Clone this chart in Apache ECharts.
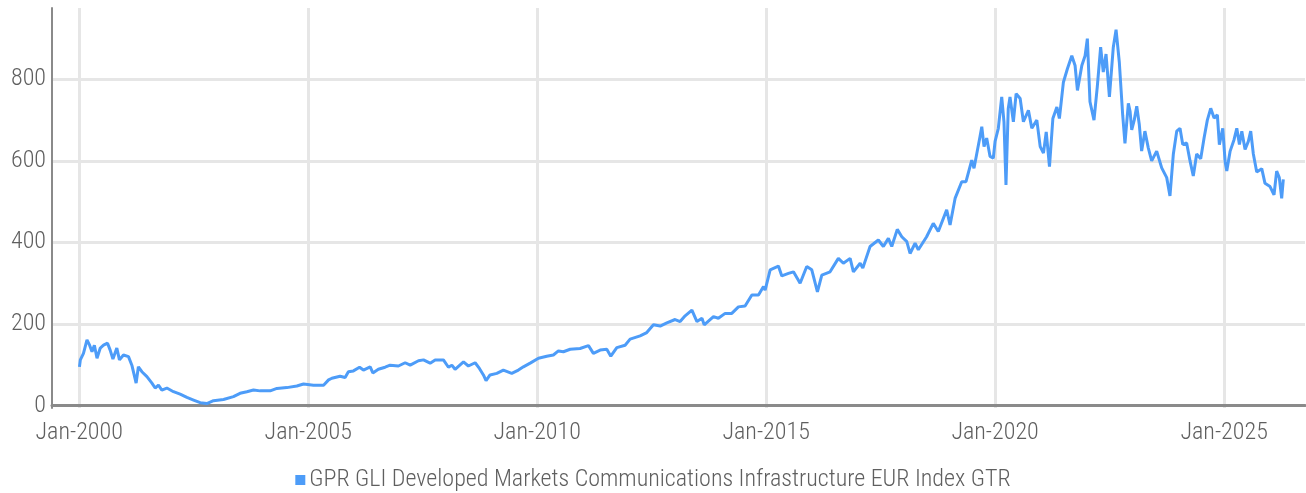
<!DOCTYPE html>
<html>
<head>
<meta charset="utf-8">
<script src="https://cdn.jsdelivr.net/npm/echarts@6/dist/echarts.min.js"></script>
<style>
html,body{margin:0;padding:0;background:#fff;}
#chart{width:1306px;height:493px;}
</style>
</head>
<body>
<div id="chart"></div>
<script>
const seriesName = 'GPR GLI Developed Markets Communications Infrastructure EUR Index GTR';
const xTickDates = ['2000-01-01','2005-01-01','2010-01-01','2015-01-01','2020-01-01','2025-01-01'];
const yTickValues = [0, 200, 400, 600, 800];

const dates = [
'2000-01-03','2000-01-10','2000-02-04','2000-03-03','2000-03-24','2000-04-12','2000-05-01','2000-05-22','2000-06-17','2000-07-13',
'2000-08-14','2000-09-04','2000-09-26','2000-10-27','2000-11-17','2000-12-19','2001-01-28','2001-02-24','2001-03-30','2001-04-17',
'2001-05-15','2001-06-24','2001-08-03','2001-08-29','2001-09-24','2001-10-21','2001-11-30','2002-01-22','2002-03-16','2002-05-09',
'2002-07-01','2002-08-23','2002-10-15','2002-12-07','2003-02-25','2003-05-15','2003-07-07','2003-08-30','2003-10-22','2003-12-14',
'2004-03-03','2004-04-26','2004-07-14','2004-10-02','2004-11-24','2005-02-12','2005-05-03','2005-06-12','2005-07-08','2005-09-12',
'2005-10-22','2005-11-17','2005-12-27','2006-02-14','2006-03-17','2006-05-10','2006-05-31','2006-07-14','2006-09-06','2006-10-16',
'2006-12-21','2007-02-13','2007-03-25','2007-05-30','2007-07-09','2007-08-31','2007-10-10','2007-12-15','2008-01-24','2008-02-20',
'2008-03-17','2008-05-23','2008-07-01','2008-08-24','2008-09-27','2008-10-29','2008-11-19','2008-12-21','2009-02-13','2009-04-06',
'2009-06-12','2009-08-04','2009-09-13','2009-11-06','2010-01-11','2010-03-18','2010-05-10','2010-06-19','2010-07-29','2010-09-21',
'2010-12-09','2011-02-14','2011-03-25','2011-05-18','2011-07-10','2011-08-11','2011-09-28','2011-12-03','2012-01-12','2012-04-01',
'2012-05-24','2012-07-16','2012-09-08','2012-10-31','2013-01-05','2013-02-14','2013-03-26','2013-05-19','2013-06-28','2013-08-07',
'2013-08-25','2013-11-07','2013-12-16','2014-02-08','2014-04-02','2014-05-25','2014-07-17','2014-09-09','2014-11-01','2014-12-11',
'2014-12-24','2015-02-02','2015-04-09','2015-05-06','2015-06-28','2015-08-07','2015-09-29','2015-11-21','2015-12-31','2016-02-14',
'2016-03-20','2016-05-25','2016-07-30','2016-09-08','2016-11-01','2016-11-27','2017-01-20','2017-02-10','2017-04-09','2017-06-14',
'2017-07-24','2017-09-02','2017-09-29','2017-11-12','2017-12-18','2018-01-27','2018-02-22','2018-04-03','2018-04-29','2018-07-04',
'2018-08-26','2018-10-05','2018-12-11','2019-01-07','2019-02-16','2019-04-10','2019-05-14','2019-06-29','2019-07-17','2019-09-03',
'2019-09-17','2019-10-05','2019-10-26','2019-11-22','2019-12-18','2020-01-01','2020-01-27','2020-02-23','2020-03-12','2020-03-28',
'2020-04-15','2020-04-29','2020-05-26','2020-06-17','2020-07-19','2020-08-14','2020-09-23','2020-10-20','2020-11-29','2020-12-26',
'2021-01-21','2021-02-12','2021-03-10','2021-04-06','2021-05-08','2021-05-28','2021-06-29','2021-07-31','2021-09-04','2021-09-30',
'2021-10-19','2021-11-23','2021-12-19','2022-01-06','2022-01-27','2022-02-28','2022-03-26','2022-04-22','2022-05-13','2022-06-04',
'2022-07-01','2022-08-01','2022-08-23','2022-09-18','2022-10-15','2022-11-02','2022-11-29','2022-12-13','2022-12-26','2023-01-15',
'2023-02-04','2023-02-24','2023-03-15','2023-04-10','2023-05-07','2023-06-03','2023-07-13','2023-08-22','2023-10-01','2023-10-27',
'2023-11-23','2023-12-20','2024-01-15','2024-02-06','2024-03-08','2024-04-04','2024-04-30','2024-05-27','2024-06-28','2024-07-25',
'2024-08-20','2024-09-16','2024-10-13','2024-11-08','2024-11-24','2024-12-21','2025-01-09','2025-01-22','2025-02-18','2025-03-21',
'2025-04-12','2025-05-03','2025-05-22','2025-06-17','2025-07-13','2025-08-01','2025-08-22','2025-09-18','2025-10-28','2025-11-23',
'2026-01-02','2026-02-03','2026-02-24','2026-03-17','2026-04-05','2026-04-18'
];

const values = [
95,112,128,161,148,132,148,116,141,148,
153,136,114,141,112,124,120,99,55,95,
83,71,55,43,50,38,43,34,28,20,
13.5,7,5,12,15,22,30,34,38,36,
36,42,44,48,53,50,50,63,67,72,
69,83,85,94,87,95,80,89,94,99,
97,105,99,110,112,104,112,112,94,99,
89,107,97,105,91,75,61,75,79,87,
79,87,95,104,116,121,124,134,132,138,
140,147,128,136,138,121,142,148,163,171,
179,198,195,203,211,206,220,234,206,214,
198,218,214,226,226,242,244,271,271,292,
283,333,342,318,324,328,300,341,333,279,
320,328,361,349,361,328,349,337,390,406,
390,410,390,432,414,402,373,398,382,414,
447,427,480,443,508,549,549,602,582,660,
684,635,656,611,607,648,680,757,696,541,
728,757,696,765,753,696,724,680,700,635,
619,671,586,704,732,704,793,826,858,834,
773,834,858,900,745,700,781,879,818,862,
757,879,922,842,712,643,741,721,676,700,
734,690,624,673,632,600,624,583,559,514,
617,673,680,640,644,600,563,617,605,656,
700,729,705,713,640,680,598,575,624,652,
680,640,673,628,648,673,617,573,581,545,
537,517,575,559,508,555
];

const FONT = '"Roboto Condensed", Roboto, sans-serif';
const FW = 300;
const TXT = '#5f5f5f';
const MONTHS = ['Jan','Feb','Mar','Apr','May','Jun','Jul','Aug','Sep','Oct','Nov','Dec'];
const ts = s => Date.parse(s + 'T00:00:00Z');

const chart = echarts.init(document.getElementById('chart'), null, {renderer: 'canvas'});
const xTicks = xTickDates.map(ts);

chart.setOption({
  animation: false,
  backgroundColor: '#ffffff',
  grid: {left: 52, right: 1, top: 8, bottom: 85, containLabel: false},
  legend: {
    bottom: -4,
    left: 'center',
    icon: 'rect',
    itemWidth: 10,
    itemHeight: 10,
    itemGap: 6,
    textStyle: {fontFamily: FONT, fontSize: 24, color: TXT, fontWeight: FW, padding: [0, 0, 0, -1]},
    data: [seriesName]
  },
  xAxis: {
    type: 'value',
    min: ts('1999-05-29'),
    max: ts('2026-10-08'),
    axisLine: {show: true, lineStyle: {color: '#8a8a8a', width: 3}},
    axisTick: {show: false, customValues: xTicks},
    axisLabel: {
      customValues: xTicks,
      fontFamily: FONT, fontWeight: FW, fontSize: 24, color: TXT, margin: 13,
      formatter: function (v) { const d = new Date(v); return MONTHS[d.getUTCMonth()] + '-' + d.getUTCFullYear(); }
    },
    splitLine: {show: true, lineStyle: {color: '#e6e6e6', width: 3}}
  },
  yAxis: {
    type: 'value',
    min: -6,
    max: 975,
    axisLine: {show: true, lineStyle: {color: '#8a8a8a', width: 2}},
    axisTick: {show: false, customValues: yTickValues},
    axisLabel: {customValues: yTickValues, fontFamily: FONT, fontWeight: FW, fontSize: 24, color: TXT, margin: 6},
    splitLine: {show: true, lineStyle: {color: '#e6e6e6', width: 3}}
  },
  series: [{
    name: seriesName,
    type: 'line',
    showSymbol: false,
    symbol: 'none',
    color: '#4d9cf8',
    lineStyle: {width: 3, color: '#4d9cf8'},
    data: dates.map((d, i) => [ts(d), values[i]])
  }]
});
</script>
</body>
</html>
